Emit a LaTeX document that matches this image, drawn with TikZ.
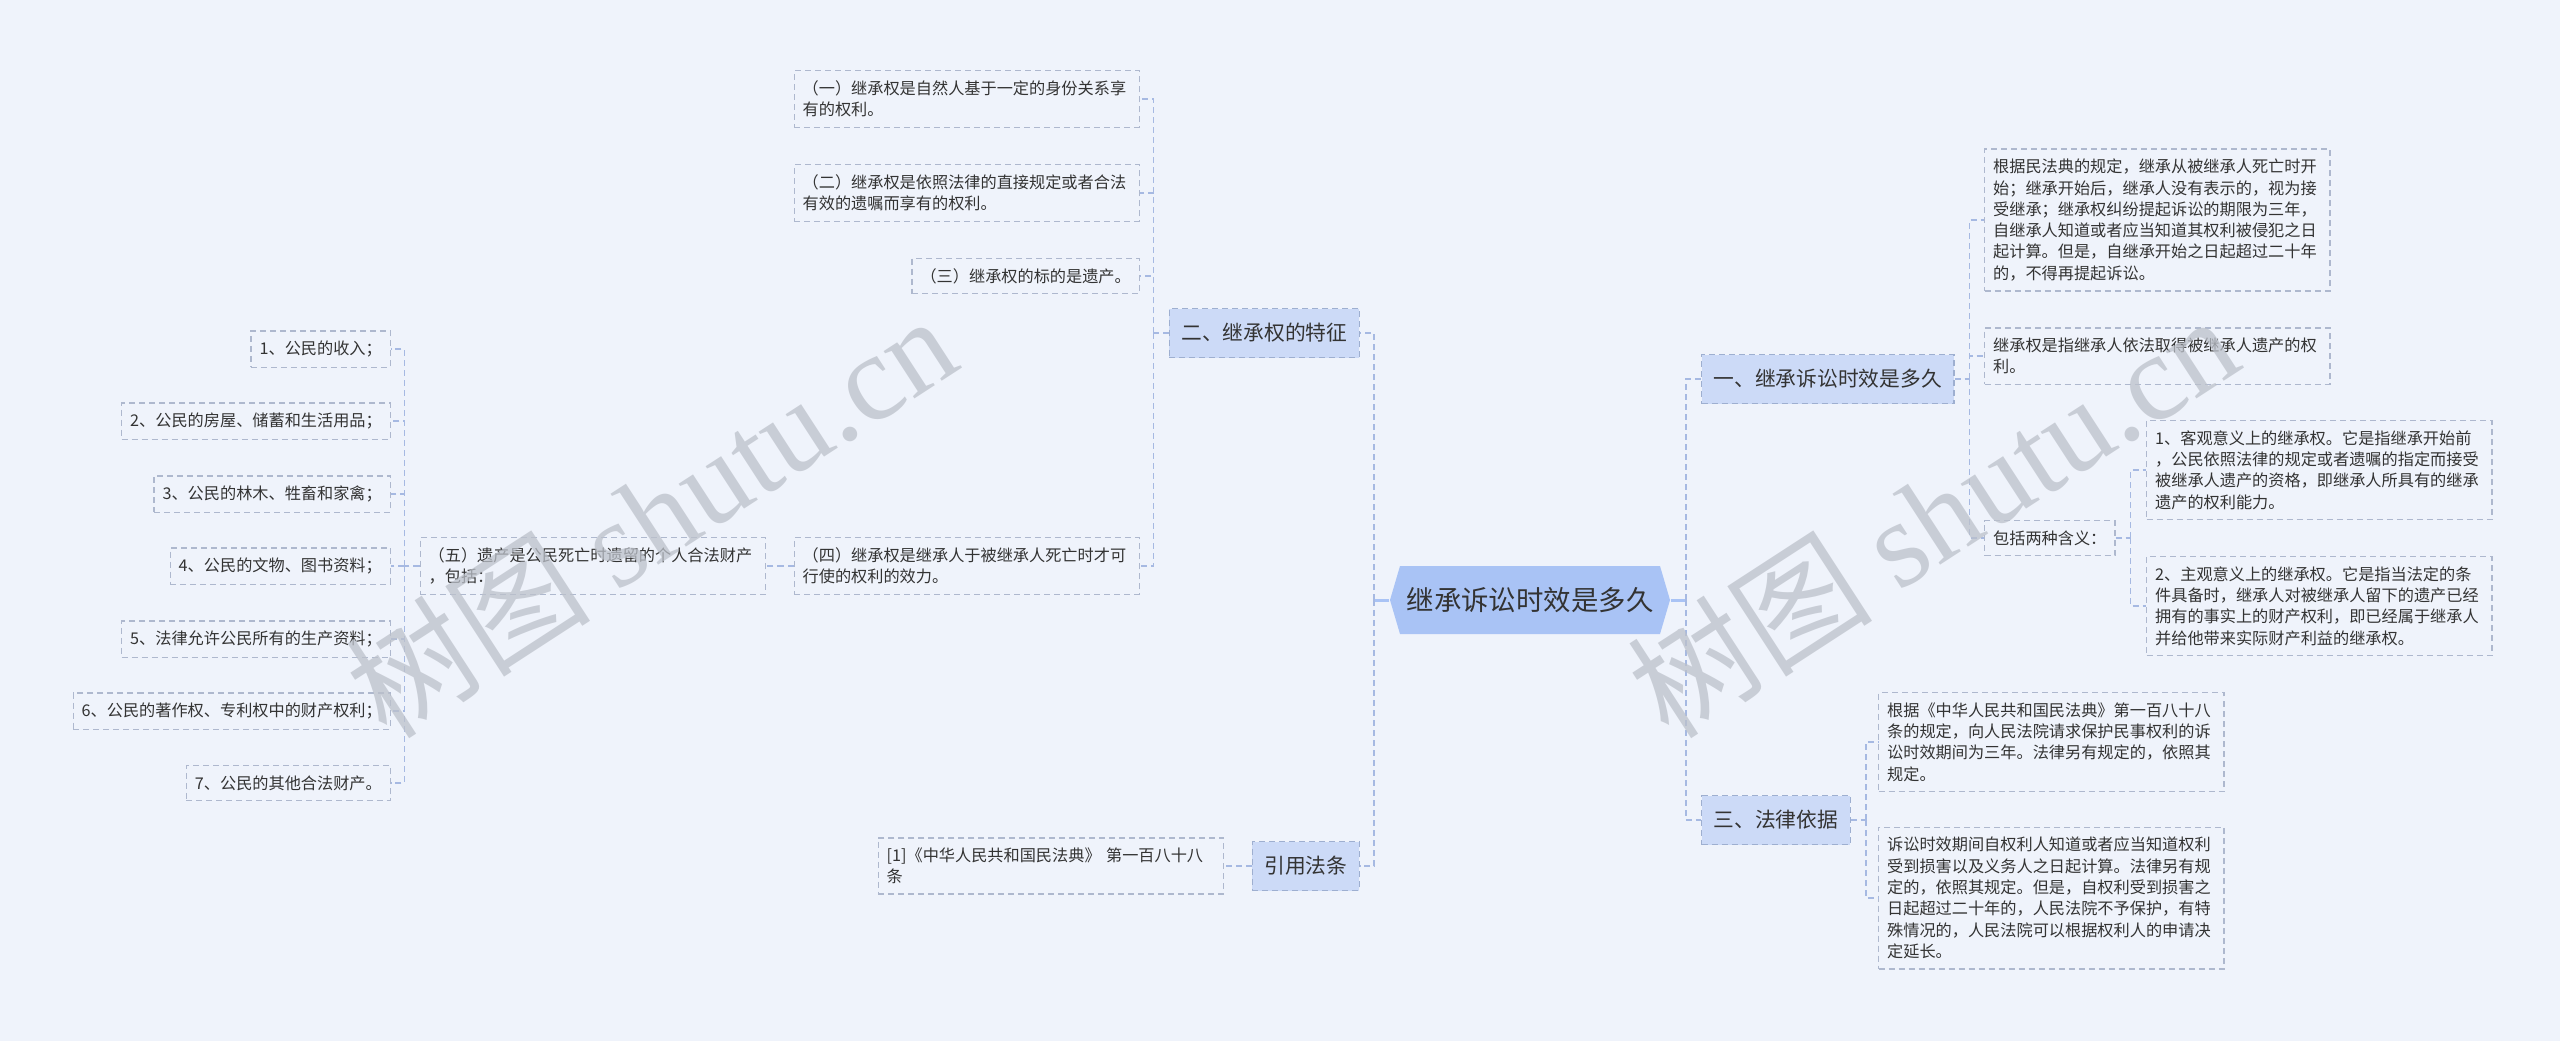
\documentclass[tikz,border=0pt]{standalone}
\usepackage{fontspec}
\setmainfont{Noto Sans CJK SC}
\newfontfamily\wmlatin{Liberation Serif}
\newfontfamily\wmcjk{Noto Sans CJK SC}
\definecolor{bg}{HTML}{EFF3FB}
\definecolor{ink}{HTML}{333333}
\definecolor{leafline}{HTML}{AEB8CE}
\definecolor{linkc}{HTML}{A6B9E2}
\definecolor{topicfill}{HTML}{CCDAF7}
\definecolor{topicline}{HTML}{9EAFD0}
\definecolor{rootfill}{HTML}{A9C3F5}
\definecolor{wm}{HTML}{BCC1CA}
\newcommand\leaffont{\fontsize{4.6pt}{6.06pt}\selectfont}
\newcommand\topicfont{\fontsize{5.9pt}{7pt}\selectfont}
\newcommand\rootfont{\fontsize{7.8pt}{9pt}\selectfont}

\begin{document}
\begin{tikzpicture}[x=0.01cm,y=-0.01cm,
  leaf/.style={draw=leafline,dash pattern=on 0.06cm off 0.04cm,line width=0.013cm,text=ink,font=\leaffont,align=left,inner xsep=0.085cm,inner ysep=0.1cm},
  wrap/.style={text width=3.28cm},
  topic/.style={draw=topicline,dash pattern=on 0.06cm off 0.04cm,line width=0.013cm,fill=topicfill,text=ink,font=\topicfont,inner xsep=0.12cm,minimum height=0.49cm},
  rootbox/.style={text=ink,font=\rootfont,minimum width=2.8cm,minimum height=0.68cm,inner sep=0pt},
  link/.style={draw=linkc,dash pattern=on 0.06cm off 0.04cm,line width=0.015cm},
  rootlink/.style={draw=rootfill,line width=0.03cm},
  watermark/.style={text=wm,opacity=0.75,font=\fontsize{35pt}{35pt}\selectfont,inner sep=0pt}]
\fill[bg] (0,0) rectangle (2560,1041);
\useasboundingbox (0,0) rectangle (2560,1041);
\fill[rootfill] (1390,600) -- (1400,566) -- (1660,566) -- (1670,600) -- (1660,634) -- (1400,634) -- cycle;
\node[rootbox] (root) at (1530,600) {继承诉讼时效是多久};
\node[topic,anchor=east] (feature) at (1360,333) {二、继承权的特征};
\node[topic,anchor=east] (citation) at (1360,866) {引用法条};
\node[topic,anchor=west] (period) at (1701,379) {一、继承诉讼时效是多久};
\node[topic,anchor=west] (basis) at (1701,820) {三、法律依据};
\node[leaf,wrap,anchor=east] (feat1) at (1140,99) {（一）继承权是自然人基于一定的身份关系享\\有的权利。};
\node[leaf,wrap,anchor=east] (feat2) at (1140,193) {（二）继承权是依照法律的直接规定或者合法\\有效的遗嘱而享有的权利。};
\node[leaf,anchor=east] (feat3) at (1140,276) {（三）继承权的标的是遗产。};
\node[leaf,wrap,anchor=east] (feat4) at (1140,566) {（四）继承权是继承人于被继承人死亡时才可\\行使的权利的效力。};
\node[leaf,wrap,anchor=east] (feat5) at (766,566) {（五）遗产是公民死亡时遗留的个人合法财产\\，包括：};
\node[leaf,anchor=east] (estate1) at (391,349) {1、公民的收入；};
\node[leaf,anchor=east] (estate2) at (391,421) {2、公民的房屋、储蓄和生活用品；};
\node[leaf,anchor=east] (estate3) at (391,494) {3、公民的林木、牲畜和家禽；};
\node[leaf,anchor=east] (estate4) at (391,566) {4、公民的文物、图书资料；};
\node[leaf,anchor=east] (estate5) at (391,639) {5、法律允许公民所有的生产资料；};
\node[leaf,anchor=east] (estate6) at (391,711) {6、公民的著作权、专利权中的财产权利；};
\node[leaf,anchor=east] (estate7) at (391,783) {7、公民的其他合法财产。};
\node[leaf,wrap,anchor=east] (law) at (1224,866) {[1]《中华人民共和国民法典》 第一百八十八\\条};
\node[leaf,wrap,anchor=west] (rule) at (1984,220) {根据民法典的规定，继承从被继承人死亡时开\\始；继承开始后，继承人没有表示的，视为接\\受继承；继承权纠纷提起诉讼的期限为三年，\\自继承人知道或者应当知道其权利被侵犯之日\\起计算。但是，自继承开始之日起超过二十年\\的，不得再提起诉讼。};
\node[leaf,wrap,anchor=west] (right) at (1984,356) {继承权是指继承人依法取得被继承人遗产的权\\利。};
\node[leaf,anchor=west] (meaning) at (1984,538) {包括两种含义：};
\node[leaf,wrap,anchor=west] (objective) at (2146,470) {1、客观意义上的继承权。它是指继承开始前\\，公民依照法律的规定或者遗嘱的指定而接受\\被继承人遗产的资格，即继承人所具有的继承\\遗产的权利能力。};
\node[leaf,wrap,anchor=west] (subjective) at (2146,606) {2、主观意义上的继承权。它是指当法定的条\\件具备时，继承人对被继承人留下的遗产已经\\拥有的事实上的财产权利，即已经属于继承人\\并给他带来实际财产利益的继承权。};
\node[leaf,wrap,anchor=west] (code) at (1878,742) {根据《中华人民共和国民法典》第一百八十八\\条的规定，向人民法院请求保护民事权利的诉\\讼时效期间为三年。法律另有规定的，依照其\\规定。};
\node[leaf,wrap,anchor=west] (start) at (1878,898) {诉讼时效期间自权利人知道或者应当知道权利\\受到损害以及义务人之日起计算。法律另有规\\定的，依照其规定。但是，自权利受到损害之\\日起超过二十年的，人民法院不予保护，有特\\殊情况的，人民法院可以根据权利人的申请决\\定延长。};
\draw[rootlink] (root.west) -- ++(-15,0) coordinate (lspine);
\draw[link] (lspine) |- (feature.east);
\draw[link] (lspine) |- (citation.east);
\draw[rootlink] (root.east) -- ++(15,0) coordinate (rspine);
\draw[link] (rspine) |- (period.west);
\draw[link] (rspine) |- (basis.west);
\draw[link] (feature.west) -- ++(-15,0) coordinate (fspine);
\draw[link] (fspine) |- (feat1.east);
\draw[link] (fspine) |- (feat2.east);
\draw[link] (fspine) |- (feat3.east);
\draw[link] (fspine) |- (feat4.east);
\draw[link] (feat4.west) -- (feat5.east);
\draw[link] (feat5.west) -- ++(-15,0) coordinate (espine);
\draw[link] (espine) |- (estate1.east);
\draw[link] (espine) |- (estate2.east);
\draw[link] (espine) |- (estate3.east);
\draw[link] (espine) |- (estate4.east);
\draw[link] (espine) |- (estate5.east);
\draw[link] (espine) |- (estate6.east);
\draw[link] (espine) |- (estate7.east);
\draw[link] (citation.west) -- (law.east);
\draw[link] (period.east) -- ++(15,0) coordinate (pspine);
\draw[link] (pspine) |- (rule.west);
\draw[link] (pspine) |- (right.west);
\draw[link] (pspine) |- (meaning.west);
\draw[link] (meaning.east) -- ++(15,0) coordinate (mspine);
\draw[link] (mspine) |- (objective.west);
\draw[link] (mspine) |- (subjective.west);
\draw[link] (basis.east) -- ++(15,0) coordinate (bspine);
\draw[link] (bspine) |- (code.west);
\draw[link] (bspine) |- (start.west);
\node[watermark,rotate=33] (wmleft) at (650,515) {{\wmcjk 树图} {\wmlatin shutu.cn}};
\node[watermark,rotate=33] (wmright) at (1932,515) {{\wmcjk 树图} {\wmlatin shutu.cn}};
\end{tikzpicture}
\end{document}
